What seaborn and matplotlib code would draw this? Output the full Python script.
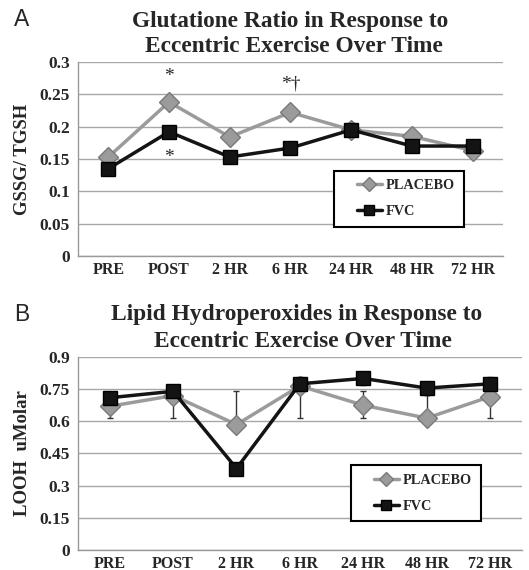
import numpy as np
import pandas as pd
import matplotlib
matplotlib.use("Agg")
import matplotlib.pyplot as plt
import seaborn as sns
from matplotlib.lines import Line2D
from matplotlib.legend_handler import HandlerLine2D

times = ["PRE", "POST", "2 HR", "6 HR", "24 HR", "48 HR", "72 HR"]

# panel A: GSSG / TGSH ratio
gsh_placebo = [0.153, 0.238, 0.184, 0.222, 0.195, 0.185, 0.163]
gsh_placebo_err = [0.008, 0.010, 0.010, 0.010, 0.010, 0.008, 0.010]
gsh_fvc = [0.135, 0.192, 0.153, 0.167, 0.195, 0.170, 0.170]
gsh_fvc_err = [0.007, 0.007, 0.006, 0.006, 0.010, 0.007, 0.007]

# panel B: LOOH (uMolar), bars as drawn (lower, upper)
looh_placebo = [0.670, 0.720, 0.585, 0.765, 0.675, 0.615, 0.715]
looh_placebo_lo = [0.055, 0.105, 0.0, 0.150, 0.060, 0.0, 0.100]
looh_placebo_hi = [0.0, 0.0, 0.155, 0.0, 0.065, 0.108, 0.0]
looh_fvc = [0.710, 0.740, 0.380, 0.775, 0.800, 0.755, 0.775]
looh_fvc_err = [0.025, 0.025, 0.012, 0.030, 0.030, 0.030, 0.030]

GRAY = "#9b9b9b"
BLACK = "#141414"

sns.set_style("white")
plt.rcParams["font.family"] = ["Liberation Serif", "DejaVu Serif"]


class PaddedLine(HandlerLine2D):
    # leaves empty room left of the legend handle, like the original
    def create_artists(self, legend, orig_handle, xdescent, ydescent, width,
                       height, fontsize, trans):
        s = fontsize * 1.0
        return super().create_artists(legend, orig_handle, xdescent - s, ydescent,
                                      width - s, height, fontsize, trans)


fig = plt.figure(figsize=(5.29, 5.70), dpi=100)
axA = fig.add_axes([0.1474, 0.5509, 0.8034, 0.3404])
axB = fig.add_axes([0.1474, 0.0351, 0.839, 0.3386])


def draw_panel(ax, plc, plc_err, fvc, fvc_err, yticks, ylabel, legend_center):
    ax.errorbar(times, plc, yerr=plc_err, fmt="none", ecolor="#333333",
                elinewidth=1, capsize=2.5, capthick=1, zorder=1)
    ax.errorbar(times, fvc, yerr=fvc_err, fmt="none", ecolor="#333333",
                elinewidth=1, capsize=2.5, capthick=1, zorder=1)
    sns.lineplot(x=times, y=plc, ax=ax, color=GRAY, lw=2.5, marker="D",
                 markersize=10, markeredgecolor="#7a7a7a", markeredgewidth=1,
                 sort=False, zorder=3)
    sns.lineplot(x=times, y=fvc, ax=ax, color=BLACK, lw=2.5, marker="s",
                 markersize=10.5, markeredgecolor="#000000", markeredgewidth=1,
                 sort=False, zorder=4)
    ax.set_xlim(-0.5, 6.5)
    ax.set_ylim(yticks[0], yticks[-1])
    ax.set_yticks(yticks)
    ax.set_yticklabels([("%g" % t) for t in yticks], fontsize=12.5, fontweight="bold")
    ax.set_xticks(range(len(times)))
    ax.set_xticklabels(times, fontsize=11.5, fontweight="bold")
    ax.yaxis.grid(True, color="#a8a8a8", lw=1)
    ax.set_axisbelow(True)
    for s in ["top", "right"]:
        ax.spines[s].set_visible(False)
    for s in ["left", "bottom"]:
        ax.spines[s].set_color("#999999")
        ax.spines[s].set_linewidth(1)
    ax.tick_params(axis="y", length=4, color="#999999", pad=2)
    ax.tick_params(axis="x", length=0, pad=4)
    ax.set_ylabel(ylabel, fontsize=13.5, fontweight="bold", labelpad=6)
    handles = [
        Line2D([], [], color=GRAY, lw=2.5, marker="D", markersize=7,
               markeredgecolor="#7a7a7a"),
        Line2D([], [], color=BLACK, lw=2.5, marker="s", markersize=7,
               markeredgecolor="#000000"),
    ]
    leg = ax.legend(handles, ["PLACEBO", "FVC"], loc="center",
                    bbox_to_anchor=legend_center, frameon=True, fancybox=False,
                    prop={"family": "Liberation Serif", "weight": "bold", "size": 10.3},
                    handlelength=2.75, handletextpad=0.3, labelspacing=0.9,
                    borderpad=0.6, borderaxespad=0,
                    handler_map={Line2D: PaddedLine()})
    leg.get_frame().set_edgecolor("black")
    leg.get_frame().set_linewidth(1.5)
    leg.get_frame().set_alpha(1)
    leg.set_zorder(10)


draw_panel(axA, gsh_placebo, gsh_placebo_err, gsh_fvc, gsh_fvc_err,
           [0, 0.05, 0.1, 0.15, 0.2, 0.25, 0.3], "GSSG/ TGSH", (0.755, 0.296))
draw_panel(axB, looh_placebo, [looh_placebo_lo, looh_placebo_hi], looh_fvc,
           looh_fvc_err, [0, 0.15, 0.3, 0.45, 0.6, 0.75, 0.9], "LOOH  uMolar",
           (0.761, 0.295))

# significance marks
axA.text(1, 0.278, "*", ha="center", va="center", fontsize=14)
axA.text(1, 0.153, "*", ha="center", va="center", fontsize=14)
axA.text(3, 0.266, "*\u2020", ha="center", va="center", fontsize=14)

title_kw = dict(ha="center", va="center", fontsize=16.8, fontweight="bold")
fig.text(0.548, 0.963, "Glutatione Ratio in Response to", **title_kw)
fig.text(0.555, 0.919, "Eccentric Exercise Over Time", **title_kw)
fig.text(0.560, 0.449, "Lipid Hydroperoxides in Response to", **title_kw)
fig.text(0.573, 0.401, "Eccentric Exercise Over Time", **title_kw)

panel_kw = dict(ha="left", va="center", fontsize=16.5, family="Liberation Sans")
fig.text(0.026, 0.965, "A", **panel_kw)
fig.text(0.026, 0.449, "B", **panel_kw)

fig.savefig("out.png", dpi=100)
